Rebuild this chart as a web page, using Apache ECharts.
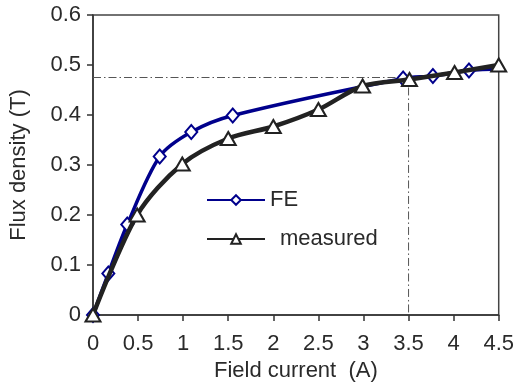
<!DOCTYPE html>
<html>
<head>
<meta charset="utf-8">
<script src="https://cdn.jsdelivr.net/npm/echarts@6/dist/echarts.min.js"></script>
<style>
  html, body { margin: 0; padding: 0; background: #fff; }
  #chart { width: 517px; height: 392px; }
</style>
</head>
<body>
<div id="chart"></div>
<script>
// Field current (A) vs flux density (T)
const feCurrent   = [0, 0.17, 0.38, 0.74, 1.09, 1.55, 3.44, 3.77, 4.17, 4.6];
const feFlux      = [0, 0.083, 0.181, 0.317, 0.366, 0.399, 0.473, 0.478, 0.489, 0.492];
const measCurrent = [0, 0.49, 0.99, 1.5, 2.0, 2.5, 2.99, 3.51, 4.01, 4.5];
const measFlux    = [0, 0.2, 0.302, 0.353, 0.377, 0.411, 0.458, 0.471, 0.485, 0.5];
// operating point guide (dash-dot)
const guideCurrent = [0, 3.5, 3.5];
const guideFlux    = [0.475, 0.475, 0];

const pairs = (xs, ys) => xs.map((x, i) => [x, ys[i]]);

// last FE point continues the curve past the frame without a marker
const feData = pairs(feCurrent, feFlux).map((p, i, arr) =>
  i === arr.length - 1 ? { value: p, symbol: 'none' } : p);

const font = 'Liberation Sans, Arial, sans-serif';
const fontSize = 22;
const textColor = '#2a2a2a';
const chart = echarts.init(document.getElementById('chart'), null, { renderer: 'canvas' });

chart.setOption({
  animation: false,
  backgroundColor: '#fff',
  grid: {
    left: 92, top: 15, right: 18, bottom: 77,
    show: true, borderColor: '#444', borderWidth: 1.5, backgroundColor: 'transparent'
  },
  legend: [
    {
      data: ['FE'], left: 206, top: 189, padding: 0, itemWidth: 58, itemHeight: 12,
      textStyle: { fontFamily: font, fontSize: fontSize, color: textColor }
    },
    {
      data: ['measured'], left: 206, top: 228, padding: 0, itemWidth: 58, itemHeight: 12,
      textStyle: { fontFamily: font, fontSize: fontSize, color: textColor, padding: [0, 0, 0, 10] }
    }
  ],
  xAxis: {
    type: 'value', min: 0, max: 4.5, interval: 0.5,
    name: 'Field current  (A)', nameLocation: 'middle', nameGap: 45,
    nameTextStyle: { fontFamily: font, fontSize: fontSize, color: textColor },
    axisLine: { show: true, lineStyle: { color: '#333', width: 1.5 } },
    axisTick: { show: true, inside: false, length: 6, lineStyle: { color: '#333', width: 1.5 } },
    axisLabel: { fontFamily: font, fontSize: fontSize, color: textColor, margin: 18 },
    splitLine: { show: false }
  },
  yAxis: {
    type: 'value', min: 0, max: 0.6, interval: 0.1,
    name: 'Flux density (T)', nameLocation: 'middle', nameGap: 63,
    nameTextStyle: { fontFamily: font, fontSize: fontSize, color: textColor },
    axisLine: { show: true, lineStyle: { color: '#333', width: 1.5 } },
    axisTick: { show: true, inside: false, length: 6, lineStyle: { color: '#333', width: 1.5 } },
    axisLabel: { fontFamily: font, fontSize: fontSize, color: textColor, margin: 12 },
    splitLine: { show: false }
  },
  series: [
    {
      name: 'guide', type: 'line', data: pairs(guideCurrent, guideFlux),
      symbol: 'none', silent: true, z: 1,
      lineStyle: { color: '#555', width: 1, type: [8, 3, 1.5, 3] }
    },
    {
      name: 'FE', type: 'line', data: feData, smooth: 0.3, clip: false, z: 2,
      symbol: 'diamond', symbolSize: [12, 14],
      itemStyle: { color: '#fff', borderColor: '#00008c', borderWidth: 2 },
      lineStyle: { color: '#00008c', width: 3.5 }
    },
    {
      name: 'measured', type: 'line', data: pairs(measCurrent, measFlux), smooth: 0.3, z: 3,
      symbol: 'triangle', symbolSize: [15, 13],
      itemStyle: { color: '#fff', borderColor: '#222', borderWidth: 2 },
      lineStyle: { color: '#222', width: 4.5 }
    }
  ]
});
</script>
</body>
</html>
